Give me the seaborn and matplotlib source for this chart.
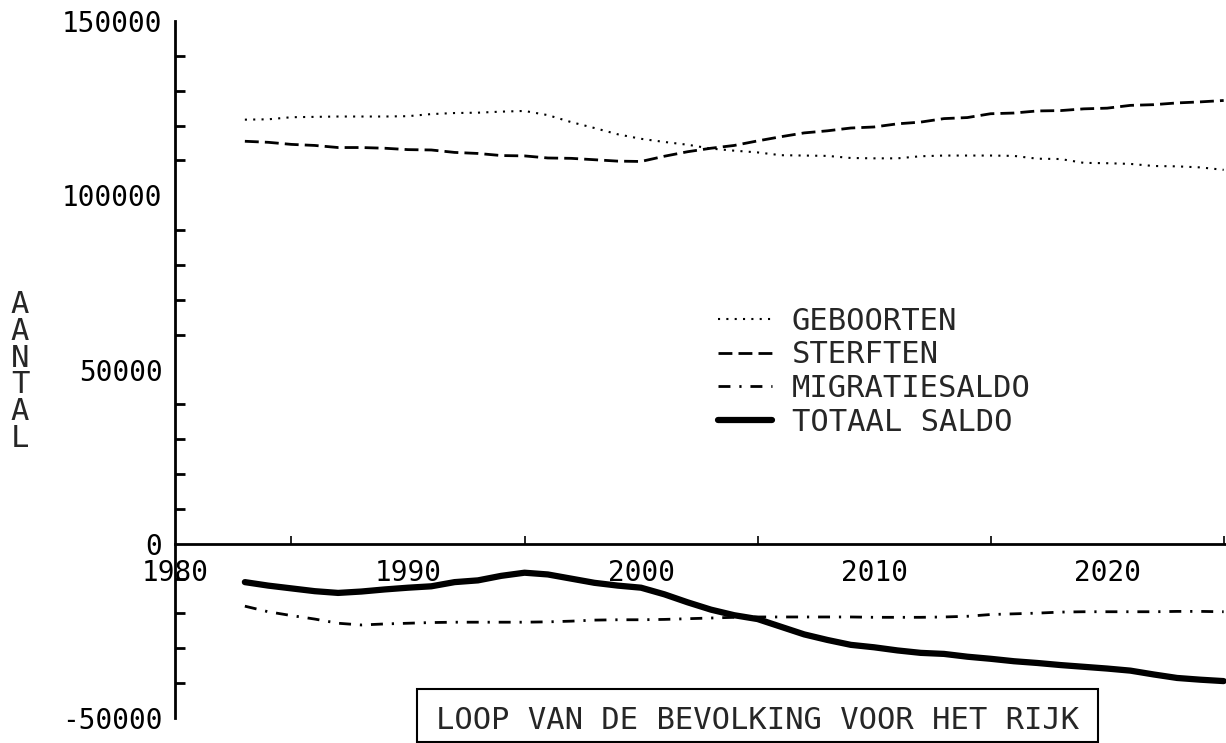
import numpy as np
import pandas as pd
import seaborn as sns
import matplotlib.pyplot as plt
from matplotlib.patches import Rectangle
from matplotlib.ticker import MultipleLocator

# jaren 1983 t/m 2025
jaren = list(range(1983, 2026))

geboorten = [121.7, 121.8, 122.4, 122.5, 122.6, 122.6, 122.6, 122.7, 123.3, 123.6,
             123.7, 124.0, 124.2, 123.0, 121.0, 119.3, 117.5, 116.2, 115.3, 114.5,
             113.4, 112.8, 112.3, 111.5, 111.4, 111.3, 110.7, 110.6, 110.6, 111.2,
             111.4, 111.4, 111.4, 111.3, 110.5, 110.4, 109.3, 109.2, 109.0, 108.4,
             108.3, 108.0, 107.3]
sterften = [115.5, 115.2, 114.6, 114.3, 113.7, 113.7, 113.5, 113.1, 113.0, 112.3,
            112.0, 111.4, 111.3, 110.7, 110.6, 110.2, 109.8, 109.7, 111.2, 112.5,
            113.5, 114.3, 115.6, 116.8, 117.9, 118.5, 119.3, 119.6, 120.5, 121.0,
            122.0, 122.3, 123.4, 123.6, 124.2, 124.3, 124.8, 125.0, 125.8, 126.0,
            126.5, 126.8, 127.2]
migratiesaldo = [-17.9, -19.5, -20.6, -21.6, -22.8, -23.3, -23.0, -22.8, -22.6, -22.5,
                 -22.5, -22.5, -22.5, -22.4, -22.2, -21.9, -21.8, -21.8, -21.7, -21.5,
                 -21.3, -21.1, -21.0, -21.0, -21.0, -21.0, -21.0, -21.1, -21.1, -21.1,
                 -21.0, -20.8, -20.3, -20.1, -19.9, -19.6, -19.5, -19.5, -19.5, -19.5,
                 -19.4, -19.4, -19.5]
totaal_saldo = [-11.0, -12.0, -12.8, -13.6, -14.1, -13.7, -13.1, -12.6, -12.2, -11.0,
                -10.5, -9.2, -8.3, -8.8, -10.0, -11.2, -12.0, -12.6, -14.5, -16.8,
                -18.9, -20.5, -21.6, -23.8, -26.0, -27.6, -29.0, -29.7, -30.6, -31.3,
                -31.6, -32.4, -33.0, -33.7, -34.2, -34.8, -35.3, -35.8, -36.4, -37.5,
                -38.5, -39.0, -39.4]

labels = ["GEBOORTEN", "STERFTEN", "MIGRATIESALDO", "TOTAAL SALDO"]
xticks = [1980, 1990, 2000, 2010, 2020]
yticks = [-50000, 0, 50000, 100000, 150000]

df = pd.DataFrame({"jaar": jaren,
                   "GEBOORTEN": np.array(geboorten) * 1000,
                   "STERFTEN": np.array(sterften) * 1000,
                   "MIGRATIESALDO": np.array(migratiesaldo) * 1000,
                   "TOTAAL SALDO": np.array(totaal_saldo) * 1000})

sns.set_theme(style="white")
plt.rcParams["font.family"] = ["DejaVu Sans Mono"]
plt.rcParams["axes.unicode_minus"] = False

fig = plt.figure(figsize=(12.26, 7.43), dpi=100)
ax = fig.add_axes([0.1427, 0.0336, 0.8573, 0.9381])

#lijnstijlen per reeks
stijlen = {
    "GEBOORTEN": dict(linestyle=(0, (1, 3)), lw=1.5),
    "STERFTEN": dict(linestyle=(0, (5, 2.2)), lw=2),
    "MIGRATIESALDO": dict(linestyle=(0, (4.3, 3.2, 0.8, 3.2)), lw=2),
    "TOTAAL SALDO": dict(linestyle="-", lw=4.5),
}
for naam in labels:
    sns.lineplot(data=df, x="jaar", y=naam, ax=ax, color="black", label=naam, **stijlen[naam])

ax.set_xlim(1980, 2025.1)
ax.set_ylim(-50000, 150000)
ax.set_xticks(xticks)
ax.set_xticklabels([str(t) for t in xticks])
ax.xaxis.set_minor_locator(MultipleLocator(5))
ax.set_yticks(yticks)
ax.set_yticklabels([str(t) for t in yticks])
ax.yaxis.set_minor_locator(MultipleLocator(10000))
ax.set_xlabel("")
ax.set_ylabel("")

for s in ["top", "right"]:
    ax.spines[s].set_visible(False)
ax.spines["left"].set_linewidth(2)
ax.spines["bottom"].set_linewidth(2)
ax.spines["bottom"].set_position(("data", 0))
ax.spines["left"].set_color("black")
ax.spines["bottom"].set_color("black")

ax.tick_params(axis="both", which="both", direction="in", color="black", labelcolor="black")
ax.tick_params(axis="y", which="major", length=14, width=2, labelsize=20, pad=9)
ax.tick_params(axis="y", which="minor", length=7, width=2, left=True)
ax.tick_params(axis="x", which="major", length=14, width=1.2, labelsize=20, pad=11)
ax.tick_params(axis="x", which="minor", length=6, width=1.2, bottom=True)

ax.legend(loc="upper left", bbox_to_anchor=(0.5167, 0.590), frameon=False,
          fontsize=22, handlelength=1.77, handletextpad=0.65, labelspacing=0.15,
          borderpad=0, borderaxespad=0)

# stapel-letters voor de y-as
fig.text(0.0163, 0.5, "\n".join("AANTAL"), ha="center", va="center",
         fontsize=22, linespacing=0.9)

# titel in kader onderaan
fig.patches.append(Rectangle((0.3401, 0.0013), 0.5555, 0.0713, transform=fig.transFigure,
                             fill=False, edgecolor="black", lw=1.5))
fig.text(0.6179, 0.0185, "LOOP VAN DE BEVOLKING VOOR HET RIJK", ha="center",
         va="baseline", fontsize=22)

fig.savefig("out.png", dpi=100, facecolor="white")
